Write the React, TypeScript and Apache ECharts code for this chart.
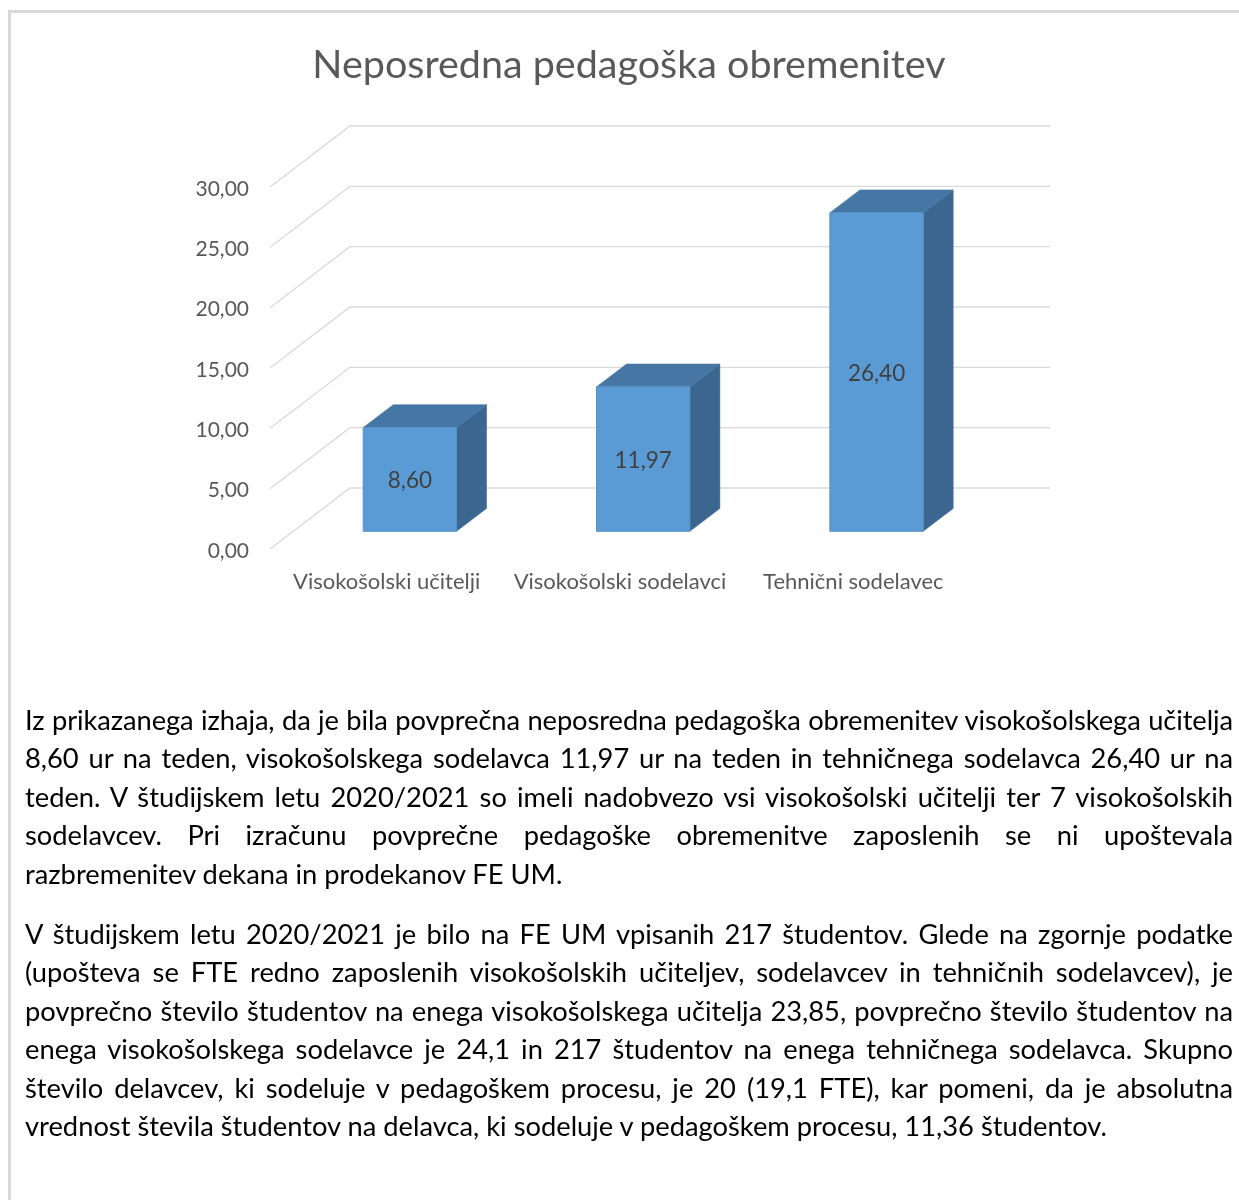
import React, { useEffect, useRef } from "react";
import * as echarts from "echarts";

const chartTitle = "Neposredna pedagoška obremenitev";
const categories = ["Visokošolski učitelji", "Visokošolski sodelavci", "Tehnični sodelavec"];
const values = [8.6, 11.97, 26.4];
const yTicks = [0, 5, 10, 15, 20, 25, 30];

const paragraph1 = [
  "Iz prikazanega izhaja, da je bila povprečna neposredna pedagoška obremenitev visokošolskega učitelja",
  "8,60 ur na teden, visokošolskega sodelavca 11,97 ur na teden in tehničnega sodelavca 26,40 ur na",
  "teden. V študijskem letu 2020/2021 so imeli nadobvezo vsi visokošolski učitelji ter 7 visokošolskih",
  "sodelavcev. Pri izračunu povprečne pedagoške obremenitve zaposlenih se ni upoštevala",
  "razbremenitev dekana in prodekanov FE UM.",
];
const paragraph2 = [
  "V študijskem letu 2020/2021 je bilo na FE UM vpisanih 217 študentov. Glede na zgornje podatke",
  "(upošteva se FTE redno zaposlenih visokošolskih učiteljev, sodelavcev in tehničnih sodelavcev), je",
  "povprečno število študentov na enega visokošolskega učitelja 23,85, povprečno število študentov na",
  "enega visokošolskega sodelavce je 24,1 in 217 študentov na enega tehničnega sodelavca. Skupno",
  "število delavcev, ki sodeluje v pedagoškem procesu, je 20 (19,1 FTE), kar pomeni, da je absolutna",
  "vrednost števila študentov na delavca, ki sodeluje v pedagoškem procesu, 11,36 študentov.",
];

const FONT = "Lato, 'Open Sans', sans-serif";
const DX = 80;
const DY = -61;
const D0 = 0.29;
const D1 = 0.665;
const BAR_FRAC = 0.4;
const TEXT_W = 1208;

const fmt = (v: number) => v.toFixed(2).replace(".", ",");

function JustLine({ text, last }: { text: string; last: boolean }) {
  const ref = useRef<HTMLSpanElement>(null);
  const [ls, setLs] = React.useState(0);
  React.useLayoutEffect(() => {
    if (!ref.current || last) return;
    const w = ref.current.getBoundingClientRect().width;
    if (w > TEXT_W - 4) {
      setLs((TEXT_W - 6 - w) / text.length);
    }
  }, []);
  return (
    <div
      style={{
        height: 38.4,
        lineHeight: "38.4px",
        fontFamily: FONT,
        fontSize: 27.3,
        color: "#000",
        letterSpacing: ls,
        textAlign: last ? "left" : "justify",
        textAlignLast: last ? "left" : "justify",
        position: "relative",
      } as any}
    >
      {text}
      <span
        ref={ref}
        style={{
          position: "absolute",
          left: 0,
          top: 0,
          whiteSpace: "nowrap",
          visibility: "hidden",
          letterSpacing: 0,
        }}
      >
        {text}
      </span>
    </div>
  );
}

function Paragraph({ lines, top }: { lines: string[]; top: number }) {
  return (
    <div style={{ position: "absolute", left: 25, top, width: TEXT_W }}>
      {lines.map((l, i) => (
        <JustLine key={i} text={l} last={i === lines.length - 1} />
      ))}
    </div>
  );
}

export default function App() {
  const ref = useRef<HTMLDivElement>(null);
  useEffect(() => {
    if (!ref.current) return;
    const chart = echarts.init(ref.current, undefined, { renderer: "svg" });
    const option: any = {
      animation: false,
      backgroundColor: "transparent",
      graphic: [
        {
          type: "text",
          x: 629,
          y: 62,
          style: {
            text: chartTitle,
            fontFamily: FONT,
            fontSize: 39.5,
            fill: "#595959",
            textAlign: "center",
            textVerticalAlign: "middle",
          },
        },
      ],
      grid: { left: 270, top: 187, width: 700, height: 362, containLabel: false },
      xAxis: {
        type: "category",
        data: categories,
        axisLine: { show: false },
        axisTick: { show: false },
        splitLine: { show: false },
        axisLabel: { color: "#595959", fontSize: 22, fontFamily: FONT, margin: 20, interval: 0 },
      },
      yAxis: {
        type: "value",
        min: 0,
        max: 30,
        interval: 5,
        axisLine: { show: false },
        axisTick: { show: false },
        splitLine: { show: false },
        axisLabel: { color: "#595959", fontSize: 21, fontFamily: FONT, margin: 21, formatter: fmt },
      },
      series: [
        {
          type: "custom",
          z: 1,
          data: yTicks.map((v) => [0, v]),
          renderItem: (params: any, api: any) => {
            const cs = params.coordSys;
            const yf = api.coord([0, api.value(1)])[1];
            const left = cs.x;
            const right = cs.x + cs.width;
            return {
              type: "polyline",
              shape: {
                points: [
                  [left, yf],
                  [left + DX, yf + DY],
                  [right + DX, yf + DY],
                ],
              },
              style: { stroke: "#d9d9d9", lineWidth: 1.3, fill: "none" },
              silent: true,
            };
          },
        },
        {
          type: "custom",
          z: 2,
          data: values.map((v, i) => [i, v]),
          renderItem: (params: any, api: any) => {
            const i = api.value(0);
            const v = api.value(1);
            const base = api.coord([i, 0]);
            const topP = api.coord([i, v]);
            const band = api.size([1, 0])[0];
            const w = band * BAR_FRAC;
            const x0 = base[0] - w / 2 + DX * D0;
            const yb = base[1] + DY * D0;
            const yt = topP[1] + DY * D0;
            const ddx = DX * (D1 - D0);
            const ddy = DY * (D1 - D0);
            return {
              type: "group",
              children: [
                {
                  type: "polygon",
                  shape: {
                    points: [
                      [x0 + w, yt],
                      [x0 + w + ddx, yt + ddy],
                      [x0 + w + ddx, yb + ddy],
                      [x0 + w, yb],
                    ],
                  },
                  style: { fill: "#3a668f", stroke: "#3a668f", lineWidth: 0.5 },
                },
                {
                  type: "polygon",
                  shape: {
                    points: [
                      [x0, yt],
                      [x0 + w, yt],
                      [x0 + w + ddx, yt + ddy],
                      [x0 + ddx, yt + ddy],
                    ],
                  },
                  style: { fill: "#4576a4", stroke: "#4576a4", lineWidth: 0.5 },
                },
                {
                  type: "rect",
                  shape: { x: x0, y: yt, width: w, height: yb - yt },
                  style: { fill: "#5b9bd5", stroke: "#5592c9", lineWidth: 1 },
                },
                {
                  type: "text",
                  x: x0 + w / 2,
                  y: (yt + yb) / 2,
                  style: {
                    text: fmt(v),
                    fontFamily: FONT,
                    fontSize: 22.5,
                    fill: "#404040",
                    textAlign: "center",
                    textVerticalAlign: "middle",
                  },
                },
              ],
            };
          },
        },
      ],
    };
    chart.setOption(option);
    return () => chart.dispose();
  }, []);

  return (
    <div>
      <div
        style={{
          position: "fixed",
          left: 8,
          top: 10,
          right: -20,
          bottom: -20,
          borderTop: "3px solid #d9d9d9",
          borderLeft: "3px solid #d9d9d9",
          pointerEvents: "none",
        }}
      />
      <div ref={ref} style={{ position: "absolute", left: 0, top: 0, width: 1239, height: 640 }} />
      <Paragraph lines={paragraph1} top={701} />
      <Paragraph lines={paragraph2} top={915} />
    </div>
  );
}
